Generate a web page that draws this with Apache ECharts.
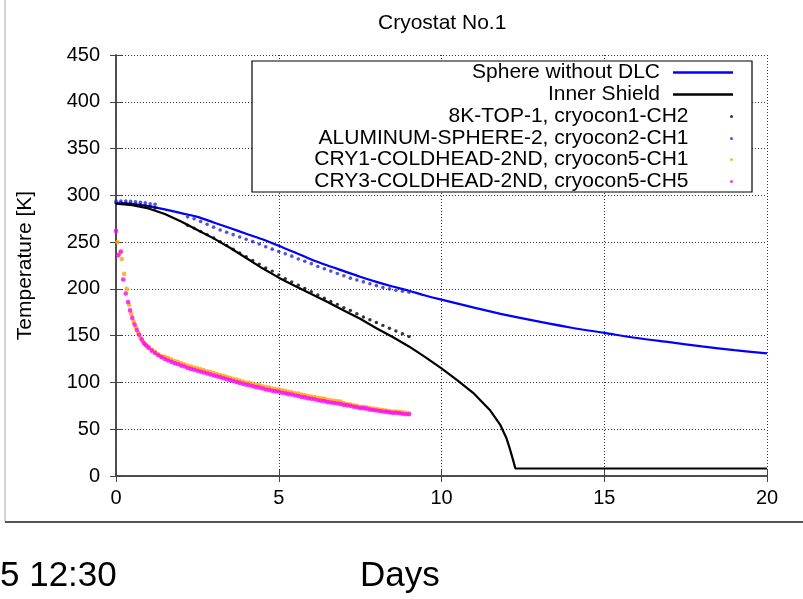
<!DOCTYPE html>
<html>
<head>
<meta charset="utf-8">
<script src="https://cdn.jsdelivr.net/npm/echarts@6/dist/echarts.min.js"></script>
<style>
html,body{margin:0;padding:0;background:#fff;}
#chart{width:803px;height:599px;}
</style>
</head>
<body>
<div id="chart"></div>
<script>
// ---- data (days, K) ----
const xTicks = [0, 5, 10, 15, 20];
const yTicks = [0, 50, 100, 150, 200, 250, 300, 350, 400, 450];

const seriesNames = [
  'Sphere without DLC',
  'Inner Shield',
  '8K-TOP-1, cryocon1-CH2',
  'ALUMINUM-SPHERE-2, cryocon2-CH1',
  'CRY1-COLDHEAD-2ND, cryocon5-CH1',
  'CRY3-COLDHEAD-2ND, cryocon5-CH5'
];

const sphere = [[0,292],[0.5,291],[1,288.5],[1.5,285],[2,281],[2.5,277],[3,271],[3.5,265],[4,259],[4.5,253],[5,246],[5.5,239],[6,231.5],[6.5,225],[7,219],[7.5,213],[8,207.5],[8.5,202.5],[9,198],[9.5,193],[10,188.5],[11,180],[12,172],[13,165],[14,158.5],[15,153],[16,147.5],[17,143],[18,138.5],[19,134.5],[20,131]];

const shield = [[0,291],[0.5,289.5],[1,286],[1.5,280],[2,272],[2.5,263],[3,254],[3.5,244],[4,233],[4.5,222],[5,212],[5.5,203],[6,194.5],[6.5,186],[7,177],[7.5,168],[8,158],[8.5,148.5],[9,138.5],[9.5,127],[10,115],[10.5,102],[11,88],[11.5,70],[11.8,55],[12,40],[12.1,29],[12.2,17],[12.27,8],[20,8]];

const top8k = [[0,292],[0.15,292],[0.3,291.5],[0.45,291],[0.6,290.5],[0.75,290],[0.9,289],[1.05,288],[1.2,286.5],[2.2,268],[2.4,265],[2.6,261.5],[2.8,258],[3.0,254.5],[3.2,250.5],[3.4,246.5],[3.6,242.5],[3.8,238.5],[4.0,234.5],[4.2,230.5],[4.4,226.5],[4.6,222.5],[4.8,219],[5.0,215],[5.2,211],[5.4,207.5],[5.6,204],[5.8,200.5],[6.0,197],[6.2,193.5],[6.4,190],[6.6,186.5],[6.8,183.5],[7.0,180],[7.2,177],[7.4,173.5],[7.6,170],[7.8,167],[8.0,164],[8.2,161],[8.4,158],[8.6,155],[8.8,152],[9.0,149]];

const aluSphere = [[0,294],[0.15,294],[0.3,294],[0.45,293.5],[0.6,293],[0.75,292.5],[0.9,292],[1.05,291],[1.2,290.5],[2.2,277],[2.4,275],[2.6,272],[2.8,269],[3.0,266],[3.2,263],[3.4,260.5],[3.6,258],[3.8,255.5],[4.0,253],[4.2,250.5],[4.4,248],[4.6,245],[4.8,242.5],[5.0,240],[5.2,237.5],[5.4,235],[5.6,232],[5.8,229.5],[6.0,227],[6.2,224],[6.4,221.5],[6.6,219],[6.8,216.5],[7.0,214],[7.2,211.5],[7.4,209.5],[7.6,207.5],[7.8,205.5],[8.0,203.5],[8.2,201.5],[8.4,200],[8.6,198.5],[8.8,197.5],[9.0,196.5]];

// early fast-cooling points
const cry1Early = [[0.04,250],[0.11,238],[0.18,232],[0.25,216],[0.33,200],[0.4,183],[0.47,173],[0.54,165],[0.61,159],[0.68,153],[0.75,148],[0.82,144],[0.9,140.5]];
const cry3Early = [[0,262],[0.07,236],[0.15,240],[0.22,210],[0.3,195],[0.37,186],[0.43,177],[0.5,169],[0.57,162],[0.64,156],[0.71,151],[0.79,146],[0.86,142],[0.93,139.5]];

// dense part of the cold-head readings
const bandDays = [1.0,1.1,1.2,1.3,1.4,1.5,1.6,1.7,1.8,1.9,2.0,2.1,2.2,2.3,2.4,2.5,2.6,2.7,2.8,2.9,3.0,3.1,3.2,3.3,3.4,3.5,3.6,3.7,3.8,3.9,4.0,4.1,4.2,4.3,4.4,4.5,4.6,4.7,4.8,4.9,5.0,5.1,5.2,5.3,5.4,5.5,5.6,5.7,5.8,5.9,6.0,6.1,6.2,6.3,6.4,6.5,6.6,6.7,6.8,6.9,7.0,7.1,7.2,7.3,7.4,7.5,7.6,7.7,7.8,7.9,8.0,8.1,8.2,8.3,8.4,8.5,8.6,8.7,8.8,8.9,9.0];
const cry1Band = [138,135,132.5,130,128,127.5,126,124.5,123,122,
  120.5,119.5,118,117,116,115,114,113,112,111,
  110,109,108,107,106,105,104,103,102,101,
  100,99.5,98.5,97.5,97,96,95,94.5,93.5,93,
  92.5,91.5,91,90,89.5,88.5,88,87,86.5,85.5,
  85,84.5,83.5,83,82.5,81.5,81,80.5,80,79.5,
  78,77,76.5,75.5,75,74,74,73.5,72.5,72,
  71.5,71,70.5,70,69.5,69,69,68.5,68,67.5,
  67];
const cry3Band = [137,134,131.5,129,127,125,123.5,122,120.5,119.5,
  118,117,115.5,114.5,113.5,112.5,111.5,110.5,109.5,108.5,
  107.5,106.5,105.5,104.5,103.5,102.5,101.5,100.5,99.5,98.5,
  97.5,97,96,95,94.5,93.5,92.5,92,91,90.5,
  90,89,88.5,87.5,87,86,85.5,84.5,84,83,
  82.5,82,81,80.5,80,79,78.5,78,77.5,77,
  76,75.5,75,74,73.5,72.5,72.5,72,71,70.5,
  70,69.5,69,68.5,68,67.5,67.5,67,66.5,66,
  66];

// ---- build ----
const FONT = '"Liberation Sans", Arial, sans-serif';
const cry1 = cry1Early.concat(bandDays.map((d, i) => [d, cry1Band[i]]));
const cry3 = cry3Early.concat(bandDays.map((d, i) => [d, cry3Band[i]]));

const colors = ['#0000ff', '#000000', '#000000', '#2626d6', '#ffa500', '#ff00ff'];

const chart = echarts.init(document.getElementById('chart'), null, {renderer: 'canvas'});

const legendTops = [62, 84, 106, 128, 149, 171];
const legendIcon = ['rect', 'rect', 'circle', 'circle', 'circle', 'circle'];
const legendIconH = [2.4, 2.4, 3, 3, 3, 3];
const legends = seriesNames.map((n, i) => ({
  data: [{name: n, icon: legendIcon[i]}],
  orient: 'vertical',
  align: 'right',
  right: 70,
  top: legendTops[i],
  padding: 0,
  itemWidth: 60,
  itemHeight: legendIconH[i],
  selectedMode: false,
  z: 10,
  textStyle: {fontSize: 21, color: '#000', fontFamily: FONT, padding: [0, 8, 0, 0]}
}));

const gridSplit = {show: true, lineStyle: {color: '#333', width: 1, type: [1, 2]}};
const axisLine = {show: true, lineStyle: {color: '#444', width: 1.5}};

chart.setOption({
  animation: false,
  backgroundColor: '#fff',
  title: {
    text: 'Cryostat No.1',
    left: 373, top: 8,
    textStyle: {fontSize: 21, fontWeight: 'normal', color: '#000', fontFamily: FONT}
  },
  legend: legends,
  grid: {left: 116, right: 36, top: 55, bottom: 123, containLabel: false},
  xAxis: [
    {type: 'value', min: xTicks[0], max: xTicks[xTicks.length - 1], interval: 5,
     axisLine: axisLine, axisTick: {show: true, inside: true, length: 6, lineStyle: {color: '#444'}},
     axisLabel: {fontSize: 20, color: '#000', fontFamily: FONT, margin: 12},
     splitLine: gridSplit},
    {type: 'value', position: 'top', min: xTicks[0], max: xTicks[xTicks.length - 1], interval: 5,
     axisLine: axisLine, axisTick: {show: true, inside: true, length: 6, lineStyle: {color: '#444'}},
     axisLabel: {show: false}, splitLine: {show: false}}
  ],
  yAxis: [
    {type: 'value', min: yTicks[0], max: yTicks[yTicks.length - 1], interval: 50,
     name: 'Temperature [K]', nameLocation: 'middle', nameGap: 80, nameRotate: 90,
     nameTextStyle: {fontSize: 21, color: '#000', fontFamily: FONT},
     axisLine: axisLine, axisTick: {show: true, inside: true, length: 6, lineStyle: {color: '#444'}},
     axisLabel: {fontSize: 20, color: '#000', fontFamily: FONT, margin: 16},
     splitLine: gridSplit},
    {type: 'value', position: 'right', min: yTicks[0], max: yTicks[yTicks.length - 1], interval: 50,
     axisLine: axisLine, axisTick: {show: true, inside: true, length: 6, lineStyle: {color: '#444'}},
     axisLabel: {show: false}, splitLine: {show: false}}
  ],
  series: [
    {name: seriesNames[0], type: 'line', data: sphere, smooth: 0.3, symbol: 'none',
     lineStyle: {color: colors[0], width: 2.2}, itemStyle: {color: colors[0]}, z: 3},
    {name: seriesNames[1], type: 'line', data: shield, symbol: 'none',
     lineStyle: {color: colors[1], width: 2.2}, itemStyle: {color: colors[1]}, z: 3},
    {name: seriesNames[2], type: 'scatter', data: top8k, symbol: 'circle', symbolSize: 3.4,
     itemStyle: {color: colors[2]}, z: 4},
    {name: seriesNames[3], type: 'scatter', data: aluSphere, symbol: 'circle', symbolSize: 3.6,
     itemStyle: {color: colors[3]}, z: 4},
    {name: seriesNames[4], type: 'scatter', data: cry1, symbol: 'circle', symbolSize: 4.6,
     itemStyle: {color: colors[4]}, z: 4},
    {name: seriesNames[5], type: 'scatter', data: cry3, symbol: 'circle', symbolSize: 4.6,
     itemStyle: {color: colors[5]}, z: 5}
  ],
  graphic: [
    {type: 'line', shape: {x1: 5, y1: 0, x2: 5, y2: 522}, style: {stroke: '#d4d4d4', lineWidth: 2}, z: 1},
    {type: 'line', shape: {x1: 5, y1: 522, x2: 803, y2: 522}, style: {stroke: '#555', lineWidth: 2}, z: 1},
    {type: 'rect', shape: {x: 252, y: 61, width: 500, height: 131},
     style: {fill: '#fff', stroke: '#000', lineWidth: 1.2}, z: 8},
    {type: 'text', x: 0, y: 576, style: {text: '5 12:30', fontSize: 35, fontFamily: FONT, fill: '#000', verticalAlign: 'middle'}, z: 1},
    {type: 'text', x: 360, y: 576, style: {text: 'Days', fontSize: 35, fontFamily: FONT, fill: '#000', verticalAlign: 'middle'}, z: 1}
  ]
});
</script>
</body>
</html>
